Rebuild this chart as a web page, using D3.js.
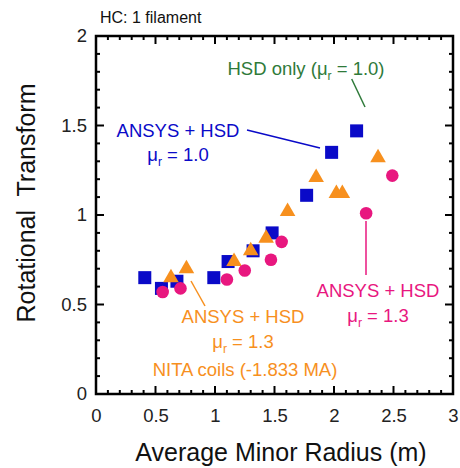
<!DOCTYPE html>
<html lang="en">
<head>
    <meta charset="UTF-8">
    <title>Rotational Transform vs Average Minor Radius</title>
    <script src="https://d3js.org/d3.v7.min.js"></script>
    <style>
        body {
            margin: 0;
            padding: 0;
            background-color: #ffffff;
            overflow: hidden;
        }

        svg {
            display: block;
            font-family: "Liberation Sans", Arial, sans-serif;
        }
    </style>
</head>
<body>
    <script>
        // Data
        const mu10Radius = [0.41, 0.55, 0.68, 0.99, 1.11, 1.32, 1.48, 1.77, 1.98, 2.19];
        const mu10Iota   = [0.65, 0.59, 0.63, 0.65, 0.74, 0.80, 0.90, 1.11, 1.35, 1.47];

        const nitaRadius = [0.63, 0.76, 1.16, 1.30, 1.43, 1.61, 1.85, 2.02, 2.07, 2.37];
        const nitaIota   = [0.65, 0.70, 0.74, 0.80, 0.87, 1.02, 1.21, 1.12, 1.12, 1.32];

        const mu13Radius = [0.56, 0.71, 1.10, 1.25, 1.47, 1.56, 2.27, 2.49];
        const mu13Iota   = [0.57, 0.59, 0.64, 0.69, 0.75, 0.85, 1.01, 1.22];

        const xTicks = [0, 0.5, 1, 1.5, 2, 2.5, 3];
        const yTicks = [0, 0.5, 1, 1.5, 2];

        const width = 460;
        const height = 468;
        const margin = { top: 36, right: 7, bottom: 74, left: 96 };

        const blue = "#0a0ac8";
        const orange = "#f7901e";
        const pink = "#e8177f";
        const green = "#2f7a3a";

        const svg = d3.select("body").append("svg")
            .attr("width", width)
            .attr("height", height);

        const x = d3.scaleLinear().domain([0, 3]).range([margin.left, width - margin.right]);
        const y = d3.scaleLinear().domain([0, 2]).range([height - margin.bottom, margin.top]);

        const x0 = x(0), x1 = x(3), y0 = y(0), y1 = y(2);

        // Ticks on all four sides, pointing inward
        const minorX = d3.range(0, 3.001, 0.1);
        const minorY = d3.range(0, 2.001, 0.1);
        const tickG = svg.append("g").attr("stroke", "#000").attr("stroke-width", 2);

        minorX.forEach(v => {
            const major = Math.abs(v * 2 - Math.round(v * 2)) < 1e-6;
            const len = major ? 8 : 4;
            tickG.append("line").attr("x1", x(v)).attr("x2", x(v)).attr("y1", y0).attr("y2", y0 - len);
            tickG.append("line").attr("x1", x(v)).attr("x2", x(v)).attr("y1", y1).attr("y2", y1 + len);
        });
        minorY.forEach(v => {
            const major = Math.abs(v * 2 - Math.round(v * 2)) < 1e-6;
            const len = major ? 8 : 4;
            tickG.append("line").attr("y1", y(v)).attr("y2", y(v)).attr("x1", x0).attr("x2", x0 + len);
            tickG.append("line").attr("y1", y(v)).attr("y2", y(v)).attr("x1", x1).attr("x2", x1 - len);
        });

        // Frame
        svg.append("rect")
            .attr("x", x0).attr("y", y1)
            .attr("width", x1 - x0).attr("height", y0 - y1)
            .attr("fill", "none").attr("stroke", "#000").attr("stroke-width", 2.5);

        // Tick labels via axes (tick lines hidden)
        const xAxis = svg.append("g")
            .attr("transform", `translate(0,${y0})`)
            .call(d3.axisBottom(x).tickValues(xTicks).tickSize(0).tickPadding(15).tickFormat(d3.format("")));
        const yAxis = svg.append("g")
            .attr("transform", `translate(${x0},0)`)
            .call(d3.axisLeft(y).tickValues(yTicks).tickSize(0).tickPadding(9).tickFormat(d3.format("")));
        [xAxis, yAxis].forEach(a => {
            a.select(".domain").remove();
            a.selectAll("text").attr("font-size", 18.5).attr("fill", "#222")
                .attr("font-family", "Liberation Sans, Arial, sans-serif");
        });

        // Axis titles
        svg.append("text")
            .attr("x", 281).attr("y", 461)
            .attr("text-anchor", "middle")
            .attr("font-size", 25).attr("fill", "#111")
            .text("Average Minor Radius (m)");

        svg.append("text")
            .attr("transform", `translate(35,203) rotate(-90)`)
            .attr("text-anchor", "middle")
            .attr("font-size", 25).attr("fill", "#111")
            .attr("xml:space", "preserve")
            .text("Rotational  Transform");

        svg.append("text")
            .attr("x", 100).attr("y", 23)
            .attr("font-size", 16).attr("fill", "#111")
            .text("HC: 1 filament");

        // Leader lines
        const leaders = [
            { x1: 351.7, y1: 79, x2: 365, y2: 107, c: green },
            { x1: 247, y1: 130, x2: 320, y2: 148, c: blue },
            { x1: 191, y1: 281, x2: 205, y2: 306, c: orange },
            { x1: 366, y1: 221, x2: 366, y2: 275, c: pink }
        ];
        leaders.forEach(l => {
            svg.append("line")
                .attr("x1", l.x1).attr("y1", l.y1).attr("x2", l.x2).attr("y2", l.y2)
                .attr("stroke", l.c).attr("stroke-width", 1.5);
        });

        // Markers: squares, then triangles, then circles
        const sq = 13;
        svg.append("g").selectAll("rect")
            .data(d3.zip(mu10Radius, mu10Iota))
            .join("rect")
            .attr("x", d => x(d[0]) - sq / 2)
            .attr("y", d => y(d[1]) - sq / 2)
            .attr("width", sq).attr("height", sq)
            .attr("fill", blue);

        const tri = d3.symbol().type(d3.symbolTriangle).size(105);
        svg.append("g").selectAll("path")
            .data(d3.zip(nitaRadius, nitaIota))
            .join("path")
            .attr("d", tri)
            .attr("transform", d => `translate(${x(d[0])},${y(d[1])})`)
            .attr("fill", orange);

        svg.append("g").selectAll("circle")
            .data(d3.zip(mu13Radius, mu13Iota))
            .join("circle")
            .attr("cx", d => x(d[0]))
            .attr("cy", d => y(d[1]))
            .attr("r", 6.3)
            .attr("fill", pink);

        // Annotation text with mu_r subscript
        function muLine(xc, yb, color, val) {
            const t = svg.append("text")
                .attr("x", xc).attr("y", yb)
                .attr("text-anchor", "middle")
                .attr("font-size", 18.5).attr("fill", color);
            t.append("tspan").text("\u03bc");
            t.append("tspan").attr("font-size", 12).attr("dy", 5).text("r");
            t.append("tspan").attr("dy", -5).text(" = " + val);
            return t;
        }
        function label(xc, yb, color, str) {
            svg.append("text")
                .attr("x", xc).attr("y", yb)
                .attr("text-anchor", "middle")
                .attr("font-size", 18.5).attr("fill", color)
                .text(str);
        }

        // HSD only
        const hsd = svg.append("text")
            .attr("x", 306).attr("y", 75)
            .attr("text-anchor", "middle")
            .attr("font-size", 18.5).attr("fill", green);
        hsd.append("tspan").text("HSD only (\u03bc");
        hsd.append("tspan").attr("font-size", 12).attr("dy", 5).text("r");
        hsd.append("tspan").attr("dy", -5).text(" = 1.0)");

        label(178, 137, blue, "ANSYS + HSD");
        muLine(178, 161, blue, "1.0");

        label(243, 323, orange, "ANSYS + HSD");
        muLine(243, 348, orange, "1.3");
        label(245, 376, orange, "NITA coils (-1.833 MA)");

        label(378, 297, pink, "ANSYS + HSD");
        muLine(378, 322, pink, "1.3");
    </script>
</body>
</html>
